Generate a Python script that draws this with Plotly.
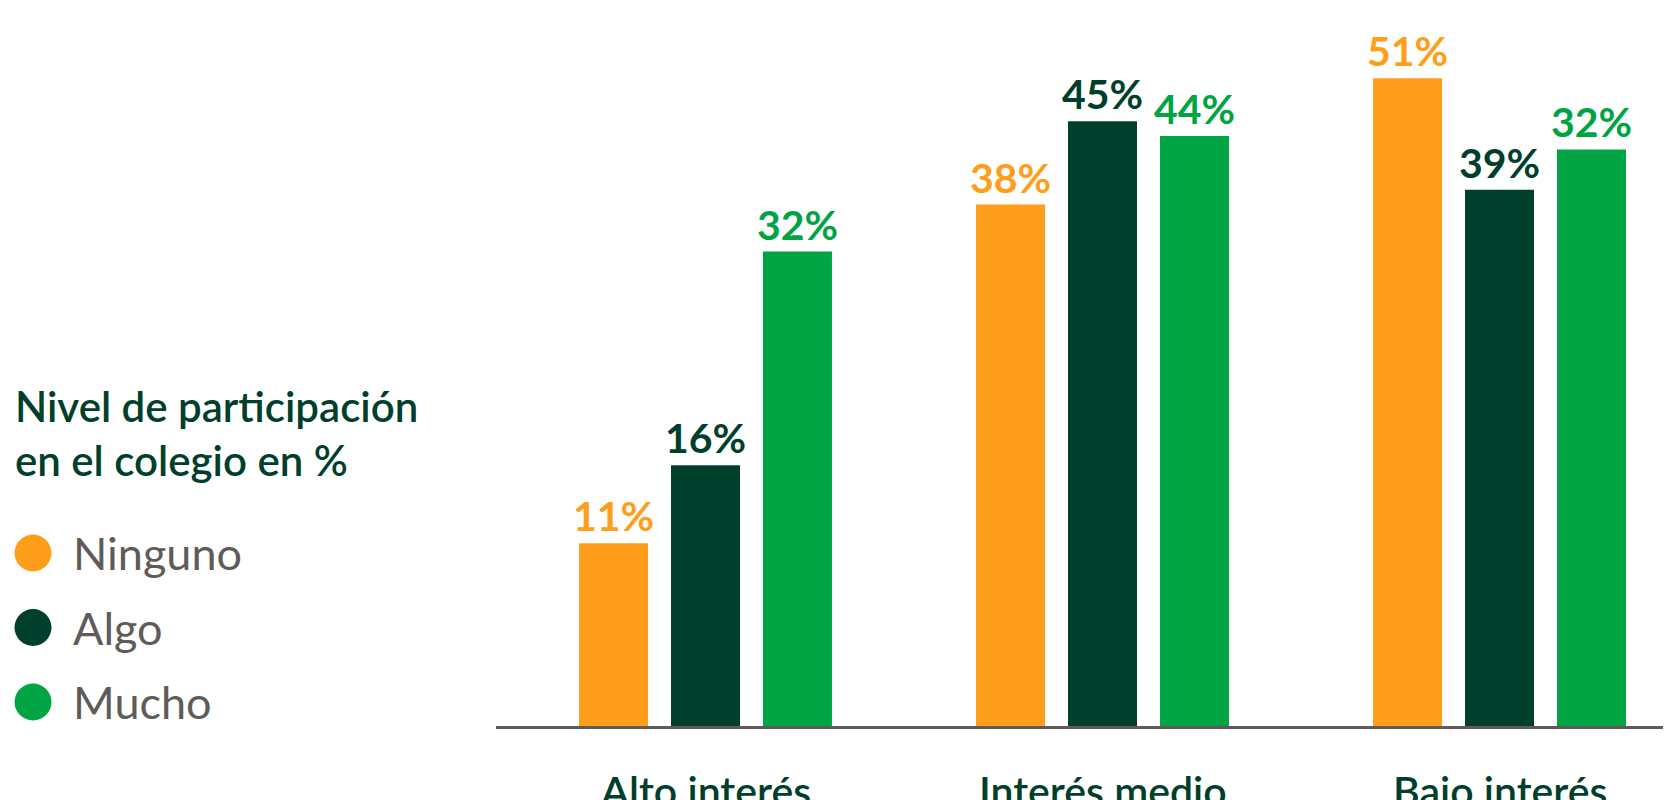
import plotly.graph_objects as go

categories = ["Alto interés", "Interés medio", "Bajo interés"]
series_names = ["Ninguno", "Algo", "Mucho"]
# bar heights as drawn in the picture (percent scale)
ninguno_bar = [13.6, 38.8, 48.2]
algo_bar = [19.4, 45.0, 39.9]
mucho_bar = [35.3, 43.9, 42.9]
# printed labels
ninguno_lbl = ["11%", "38%", "51%"]
algo_lbl = ["16%", "45%", "39%"]
mucho_lbl = ["32%", "44%", "32%"]
legend_title_lines = ["Nivel de participación", "en el colegio en %"]

ORANGE = "#FF9E1B"
DARK = "#003F2C"
GREEN = "#00A443"
GRAY = "#5F5B58"
FONT = "Lato"

# page body has an 8px margin; figure offset accordingly
W, H = 1655, 792
ML, MR, MT, MB = 488, 0, 0, 74
PW = W - ML - MR
PH = H - MT - MB


def px_x(px):
    return (px - ML) / PW


def px_y(py):
    return (H - MB - py) / PH


fig = go.Figure()
for name, vals, lbls, col in [
    ("Ninguno", ninguno_bar, ninguno_lbl, ORANGE),
    ("Algo", algo_bar, algo_lbl, DARK),
    ("Mucho", mucho_bar, mucho_lbl, GREEN),
]:
    fig.add_trace(go.Bar(
        name=name, x=categories, y=vals, text=lbls,
        textposition="outside", constraintext="none", cliponaxis=False,
        textfont=dict(family=FONT, size=41, color=col, weight="bold"),
        marker=dict(color=col, line=dict(width=0)),
        showlegend=False, hoverinfo="skip",
    ))

shapes = []
annotations = []
# legend title
for i, line in enumerate(legend_title_lines):
    annotations.append(dict(
        text=line, xref="paper", yref="paper",
        x=px_x(5), y=px_y(415 + i * 54 + 10), xanchor="left", yanchor="bottom",
        showarrow=False, font=dict(family=FONT, size=42, color=DARK, weight=600),
    ))
# legend items
for i, (name, col) in enumerate(zip(series_names, [ORANGE, DARK, GREEN])):
    cy = 545 + i * 74.5
    r = 18.5
    shapes.append(dict(type="circle", xref="paper", yref="paper",
                       x0=px_x(25 - r), x1=px_x(25 + r), y0=px_y(cy + r), y1=px_y(cy - r),
                       fillcolor=col, line=dict(width=0)))
    annotations.append(dict(
        text=name, xref="paper", yref="paper", x=px_x(63), y=px_y(cy),
        xanchor="left", yanchor="middle", showarrow=False,
        font=dict(family=FONT, size=45, color=GRAY),
    ))
# category labels under the axis
for c in categories:
    annotations.append(dict(
        text=c, xref="x", yref="paper", x=c, y=0, xanchor="center", yanchor="top",
        yshift=-38, showarrow=False,
        font=dict(family=FONT, size=41, color=DARK, weight=600),
    ))

fig.update_layout(
    template="none",
    width=W, height=H,
    margin=dict(l=ML, r=MR, t=MT, b=MB, pad=0, autoexpand=False),
    paper_bgcolor="white", plot_bgcolor="white",
    barmode="group", bargap=0.305, bargroupgap=0.25,
    shapes=shapes, annotations=annotations,
    xaxis=dict(
        type="category", range=[-0.5277, 2.4118], automargin=False,
        showline=True, linecolor=GRAY, linewidth=3,
        showgrid=False, zeroline=False, ticks="", showticklabels=False,
    ),
    yaxis=dict(range=[0, 53.42], visible=False, automargin=False,
               showgrid=False, zeroline=False),
)

fig.write_html("out.html")
